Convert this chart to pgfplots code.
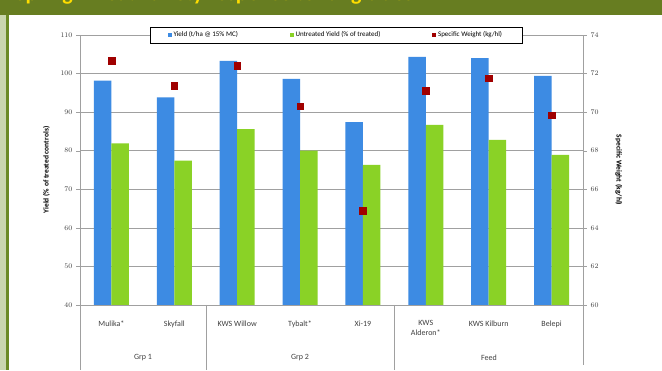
\documentclass[border=0pt]{standalone}
\usepackage{pgfplots}
\pgfplotsset{compat=1.18}
\usepackage{fontspec}
\setmainfont{Carlito}
\definecolor{barblue}{RGB}{61,139,227}
\definecolor{bargreen}{RGB}{138,210,38}
\definecolor{swred}{RGB}{160,0,0}
\definecolor{oliveband}{RGB}{103,125,33}
\definecolor{lightstrip}{RGB}{202,214,174}
\definecolor{darkstrip}{RGB}{107,138,36}
\definecolor{axgray}{RGB}{160,160,160}
\definecolor{titleyellow}{RGB}{255,221,0}
\begin{document}
\begin{tikzpicture}[x=1pt,y=1pt]
\useasboundingbox (0,0) rectangle (662,370);
\fill[white] (0,0) rectangle (662,370);
\fill[oliveband] (0,355) rectangle (662,370);
\fill[lightstrip] (0,0) rectangle (6,355);
\fill[darkstrip] (6,0) rectangle (9,355);
\node[anchor=base west, text=titleyellow, font=\bfseries\fontsize{22}{24}\selectfont, inner sep=0pt] at (15,369.5) {Spring wheat variety response to fungicides};
\begin{axis}[
  at={(80pt,65pt)}, anchor=south west,
  width=503pt, height=270pt, scale only axis,
  ybar=0pt, bar width=17.5pt,
  xmin=-0.5, xmax=7.5, ymin=40, ymax=110,
  ytick={40,50,...,110},
  xtick={0,...,7},
  xticklabels={Mulika*,Skyfall,KWS Willow,Tybalt*,Xi-19,{KWS\\Alderon*},KWS Kilburn,Belepi},
  xticklabel style={align=center, font=\fontsize{8}{10}\selectfont, yshift=-8pt, anchor=north, text=black!75},
  yticklabel style={font=\fontsize{7}{8}\selectfont, text=black!75},
  axis y line*=left, axis x line*=bottom,
  axis line style={axgray, line width=0.8pt},
  x axis line style={-}, y axis line style={-},
  ymajorgrids, grid style={axgray, line width=0.6pt},
  major x tick style={draw=none},
  ytick style={axgray},
  tick align=outside, major tick length=4pt,
  ylabel={\bfseries Yield (\% of treated controls)},
  ylabel style={font=\fontsize{7.5}{9}\selectfont},
  ylabel shift=4pt,
  legend style={at={(0.509,1)}, anchor=center, legend columns=3, draw=black, fill=white,
    font=\fontsize{7}{8}\selectfont, /tikz/every even column/.append style={column sep=50pt},
    inner xsep=18pt, inner ysep=2.5pt},
  legend image code/.code={\fill[#1] (0pt,-1.8pt) rectangle (3.6pt,1.8pt);},
]
\addplot[fill=barblue, draw=none] coordinates {(0,98.2) (1,93.8) (2,103.3) (3,98.6) (4,87.4) (5,104.3) (6,104.0) (7,99.4)};
\addlegendentry{Yield (t/ha @ 15\% MC)}
\addplot[fill=bargreen, draw=none] coordinates {(0,81.9) (1,77.4) (2,85.6) (3,80.0) (4,76.3) (5,86.7) (6,82.8) (7,78.9)};
\addlegendentry{Untreated Yield (\% of treated)}
\addlegendimage{fill=swred, draw=none}
\addlegendentry{Specific Weight (kg/hl)}
\end{axis}
\begin{axis}[
  at={(80pt,65pt)}, anchor=south west,
  width=503pt, height=270pt, scale only axis,
  xmin=-0.5, xmax=7.5, ymin=60, ymax=74,
  ytick={60,62,...,74},
  axis y line*=right, axis x line=none,
  axis line style={axgray, line width=0.8pt},
  y axis line style={-},
  ytick style={axgray},
  tick align=outside, major tick length=4pt,
  yticklabel style={font=\fontsize{7}{8}\selectfont, text=black!75},
  ylabel={\bfseries Specific Weight (kg/hl)},
  ylabel style={font=\fontsize{7.5}{9}\selectfont, rotate=180},
  ylabel shift=10pt,
]
\addplot[only marks, mark=square*, mark size=3.3pt, color=swred] coordinates {(0,72.67) (1,71.37) (2,72.4) (3,70.3) (4,64.9) (5,71.1) (6,71.75) (7,69.85)};
\end{axis}
\draw[axgray, line width=0.8pt] (80,65) -- (80,0);
\draw[axgray, line width=0.8pt] (206,65) -- (206,0);
\draw[axgray, line width=0.8pt] (394,65) -- (394,0);
\draw[axgray, line width=0.8pt] (583,65) -- (583,5);
\node[font=\fontsize{8}{10}\selectfont, text=black!75] at (143,12) {Grp 1};
\node[font=\fontsize{8}{10}\selectfont, text=black!75] at (300,12) {Grp 2};
\node[font=\fontsize{8}{10}\selectfont, text=black!75] at (489,12) {Feed};
\end{tikzpicture}
\end{document}
